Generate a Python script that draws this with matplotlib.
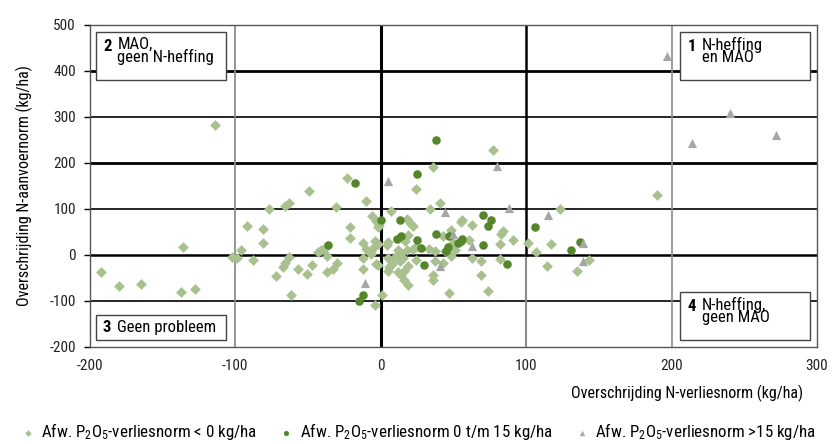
import matplotlib
matplotlib.use("Agg")
import matplotlib.pyplot as plt
from matplotlib import font_manager
from matplotlib.patches import Rectangle

# smalle schreefloze letter als die er is
KANDIDATEN = ["Liberation Sans Narrow", "Roboto Condensed", "Open Sans Condensed",
              "DejaVu Sans Condensed", "Liberation Sans"]
beschikbaar = {f.name for f in font_manager.fontManager.ttflist}
LETTER = next((k for k in KANDIDATEN if k in beschikbaar), "DejaVu Sans")

plt.rcParams["font.family"] = [LETTER, "DejaVu Sans"]
plt.rcParams["mathtext.fontset"] = "custom"
plt.rcParams["mathtext.rm"] = LETTER
plt.rcParams["mathtext.it"] = LETTER
plt.rcParams["axes.unicode_minus"] = False

# Afw. P2O5-verliesnorm < 0 kg/ha
laag_x = [-192, -180, -165, -137, -128, -136, -114, -102, -99, -96, -92, -81, -81, -88,
          -77, -66, -63, -49, -31, -23, -21, -21, -63, -66, -67, -72, -57, -51, -47, -62,
          -43, -41, -39, -37, -30, -33, -37, -10, -6, -3, -1, 7, -2, -12, -10, -7, -4, -2,
          -5, 5, 4, -7, -3, -12, -12, -2, 5, 6, 8, 5, 10, 13, 15, 12, 14, 16, 19, 16, 19,
          24, 1, -4, 12, 14, 18, 22, 24, 33, 37, 18, 20, 22, 19, 17, 24, 36, 34, 41, 36,
          36, 37, 43, 48, 44, 43, 48, 51, 50, 56, 55, 63, 61, 63, 69, 69, 74, 47, 77, 82,
          82, 84, 83, 91, 101, 107, 117, 123, 114, 135, 143, 190]
laag_y = [-38, -68, -64, -81, -75, 17, 283, -4, -6, 10, 64, 57, 27, -11,
          100, 106, 114, 140, 104, 168, 60, 36, -4, -17, -27, -45, -31, -42, -22, -88,
          7, 11, 14, -3, -17, -30, -37, 117, 84, 74, 66, 96, 60, 27, 14, 8, 30, 24,
          16, 29, 22, 2, -20, -7, -31, -22, -7, -27, -20, -35, -4, -13, -6, -38, -43, -35, -24, -55, -65,
          -10, -87, -108, 11, 5, 11, 14, 18, 13, 8, 78, 70, 63, 43, 30, 143, 192, 100, 114, -43,
          -55, -13, 42, 55, 9, -17, -2, 10, 27, 77, 72, 66, 32, -6, -13, -44, -78, -82, 228, 23,
          -9, 53, 46, 33, 27, 7, 23, 101, -24, -35, -11, 131]

# Afw. P2O5-verliesnorm 0 t/m 15 kg/ha
midden_x = [-36, -18, 38, 25, 0, 13, 11, 14, 25, 38, 28, 30, -12, -15, 70, 76, 74, 47,
            46, 45, 53, 56, 55, 70, 87, 106, 137, 131]
midden_y = [21, 156, 250, 176, 76, 76, 35, 42, 32, 45, 15, -22, -86, -99, 86, 76, 62, 42,
            18, 9, 25, 34, 30, 21, -19, 61, 29, 11]

# Afw. P2O5-verliesnorm > 15 kg/ha
hoog_x = [5, 80, 197, 240, 214, 272, 44, 88, 115, 50, 63, 139, 139, 41, -11]
hoog_y = [160, 194, 432, 309, 244, 261, 93, 102, 86, 46, 20, 25, -13, -25, -60]

x_ticks = [-200, -100, 0, 100, 200, 300]
y_ticks = [-200, -100, 0, 100, 200, 300, 400, 500]

LICHTGROEN = "#a9c08f"
DONKERGROEN = "#55862a"
GRIJS = "#a6a6a6"

fig = plt.figure(figsize=(8.32, 4.44), dpi=100)
ax = fig.add_axes([0.108, 0.2185, 0.874, 0.7252])
ax.set_xlim(-200, 300)
ax.set_ylim(-200, 500)

# rasterlijnen
for y, lw in [(400, 2.0), (300, 1.2), (200, 2.0), (100, 1.2), (0, 1.8), (-100, 1.2)]:
    ax.axhline(y, color="black", lw=lw, zorder=1)
ax.axvline(-100, color="#8c8c8c", lw=1.3, zorder=1)
ax.axvline(200, color="#8c8c8c", lw=1.2, zorder=1)
ax.axvline(100, ymin=0, ymax=200 / 700, color="#8c8c8c", lw=1.5, zorder=1)
ax.axvline(100, ymin=200 / 700, ymax=1, color="black", lw=1.8, zorder=1)
ax.axvline(0, color="black", lw=2.2, zorder=1)

for s in ax.spines.values():
    s.set_color("#555555")
    s.set_linewidth(1.0)

sc1 = ax.scatter(laag_x, laag_y, marker="D", s=30, color=LICHTGROEN, linewidths=0, zorder=3)
sc2 = ax.scatter(midden_x, midden_y, marker="o", s=38, color=DONKERGROEN, linewidths=0, zorder=4)
sc3 = ax.scatter(hoog_x, hoog_y, marker="^", s=44, color=GRIJS, linewidths=0, zorder=4)

ax.set_xticks(x_ticks)
ax.set_yticks(y_ticks)
ax.tick_params(axis="x", length=0, pad=9, labelsize=11, labelcolor="#222222")
ax.tick_params(axis="y", length=4, width=1, direction="out", pad=6, labelsize=11,
               labelcolor="#222222")
ax.set_ylabel("Overschrijding N-aanvoernorm (kg/ha)", fontsize=11.5, labelpad=12)
fig.text(0.965, 0.115, "Overschrijding N-verliesnorm (kg/ha)", ha="right", va="center",
         fontsize=11.5)


def kwadrant(x0, y0, x1, y1, nummer, tekst):
    ax.add_patch(Rectangle((x0, y0), x1 - x0, y1 - y0, transform=ax.transAxes,
                           facecolor="white", edgecolor="#444444", lw=1.0, zorder=5))
    twee = "\n" in tekst
    ty = (y0 + y1) / 2 + (0.030 if twee else 0)
    ax.text(x0 + 0.010, ty, nummer, transform=ax.transAxes, fontsize=12, fontweight="bold",
            ha="left", va="center", zorder=6)
    ax.text(x0 + 0.030, ty + 0.030 if twee else ty, tekst, transform=ax.transAxes,
            fontsize=12, ha="left", va="top" if twee else "center",
            linespacing=0.8, zorder=6)


kwadrant(0.008, 0.829, 0.187, 0.978, "2", "MAO,\ngeen N-heffing")
kwadrant(0.008, 0.022, 0.187, 0.099, "3", "Geen probleem")
kwadrant(0.812, 0.829, 0.990, 0.978, "1", "N-heffing\nen MAO")
kwadrant(0.812, 0.022, 0.990, 0.171, "4", "N-heffing,\ngeen MAO")

fig.legend([sc1, sc2, sc3],
           ["Afw. P$_2$O$_5$-verliesnorm < 0 kg/ha",
            "Afw. P$_2$O$_5$-verliesnorm 0 t/m 15 kg/ha",
            "Afw. P$_2$O$_5$-verliesnorm >15 kg/ha"],
           loc="center", bbox_to_anchor=(0.502, 0.028), ncol=3, frameon=False,
           fontsize=12.2, markerscale=0.6, handletextpad=0.3, columnspacing=1.2,
           handlelength=1.0)

fig.savefig("out.png", dpi=100)
